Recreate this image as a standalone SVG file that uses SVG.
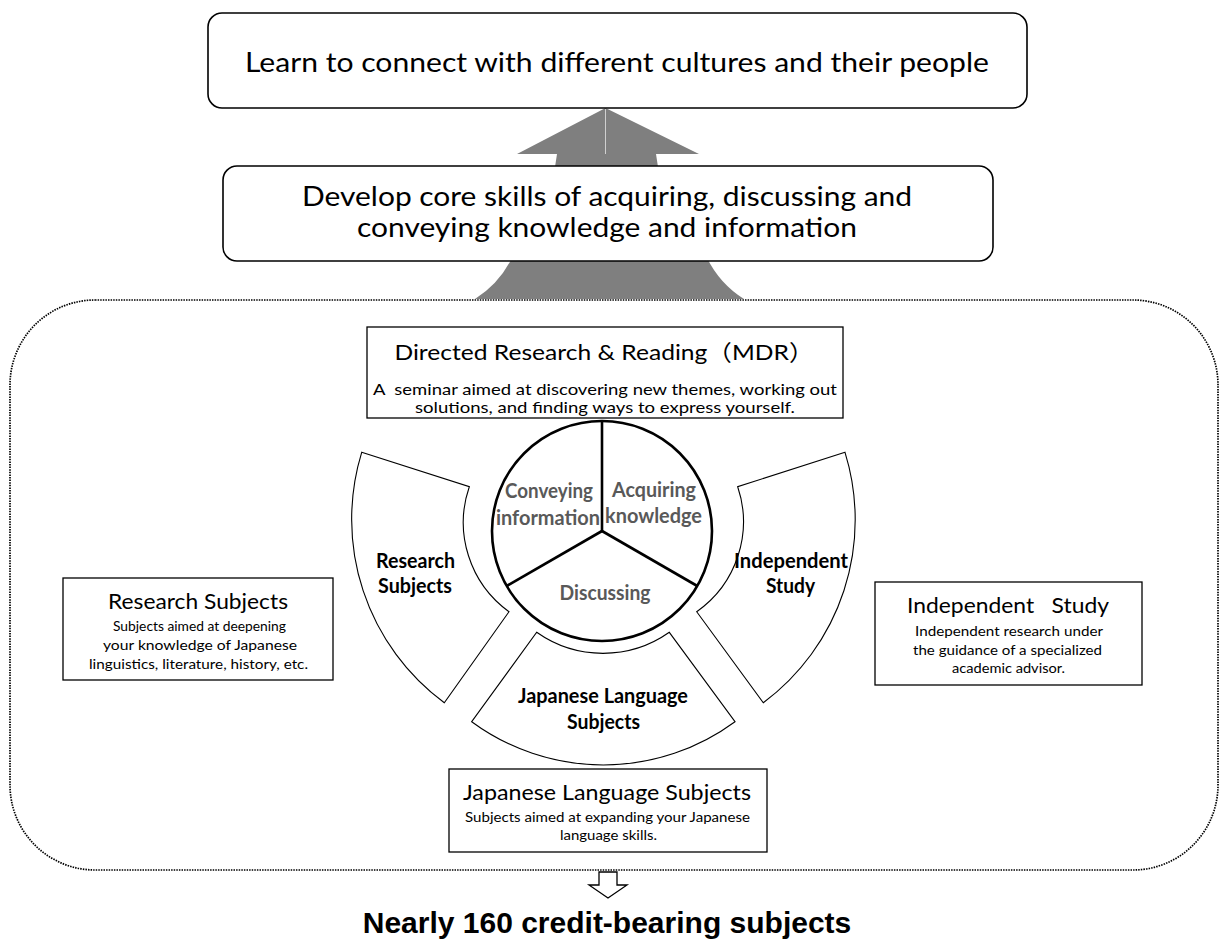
<svg xmlns="http://www.w3.org/2000/svg" width="1219" height="943" viewBox="0 0 1219 943">
<style>
  text { font-family: Lato, "Liberation Sans", "Noto Sans CJK JP", sans-serif; fill: #000; text-anchor: middle; }
  .box { fill: #fff; stroke: #000; stroke-width: 1.6; }
  .rect { fill: #fff; stroke: #000; stroke-width: 1.3; }
  .seg { fill: #fff; stroke: #000; stroke-width: 1.1; }
  .gray { fill: #7f7f7f; }
  .dotted { fill: none; stroke: #000; stroke-width: 1.7; stroke-dasharray: 1.5 1.1; }
  .hollow { fill: #fff; stroke: #000; stroke-width: 1.3; }
  .t1 { font-size: 27px; }
  .t2 { font-size: 26px; }
  .ttl { font-size: 22px; }
  .sub { font-size: 15px; }
  .small { font-size: 14px; }
  .lbl { font-size: 20px; font-weight: 700; }
  .cl { font-size: 20px; font-weight: 700; fill: #595959; }
  .final { font-family: "Liberation Sans", Arial, sans-serif; font-size: 30px; font-weight: 700; }
</style>
<rect x="0" y="0" width="1219" height="943" fill="#fff"/>

<g id="frame">
  <rect class="dotted" x="10" y="300" width="1208" height="570" rx="85" ry="85"/>
</g>

<g id="connectors">
  <path class="gray" d="M605.5,108 L699,154 L656,154 L658,167 L555,167 L557,154 L517,154 Z"/>
  <line x1="605.5" y1="109" x2="605.5" y2="154" stroke="#d0d0d0" stroke-width="1"/>
  <path class="gray" d="M512,258 L707,258 Q720,284 744,299 L475,299 Q499,284 512,258 Z"/>
  <path class="hollow" d="M599,872 L617,872 L617,885 L627,885 L608,898 L589,885 L599,885 Z"/>
</g>

<g id="goal">
  <rect class="box" x="208" y="13" width="819" height="95" rx="14" ry="14"/>
  <text class="t1" x="617" y="72" textLength="744" lengthAdjust="spacingAndGlyphs">Learn to connect with different cultures and their people</text>
</g>

<g id="core-skills">
  <rect class="box" x="223" y="166" width="770" height="95" rx="14" ry="14"/>
  <text class="t2" x="607" y="206" textLength="610" lengthAdjust="spacingAndGlyphs">Develop core skills of acquiring, discussing and</text>
  <text class="t2" x="607" y="237" textLength="500" lengthAdjust="spacingAndGlyphs">conveying knowledge and information</text>
</g>

<g id="mdr">
  <rect class="rect" x="367" y="327" width="476" height="91"/>
  <text class="ttl" x="604" y="360" textLength="419" lengthAdjust="spacingAndGlyphs">Directed Research &amp; Reading（MDR）</text>
  <text class="sub" x="605" y="395" textLength="464" lengthAdjust="spacingAndGlyphs" xml:space="preserve">A  seminar aimed at discovering new themes, working out</text>
  <text class="sub" x="605" y="413" textLength="380" lengthAdjust="spacingAndGlyphs">solutions, and finding ways to express yourself.</text>
</g>

<g id="research-segment">
  <path class="seg" d="M361.7,452.3 L469.3,486.7 A110,110 0 0 0 509,611.7 L444.3,702.7 A228,228 0 0 1 361.7,452.3 Z"/>
  <text class="lbl" x="415.5" y="568" textLength="79" lengthAdjust="spacingAndGlyphs">Research</text>
  <text class="lbl" x="415" y="593" textLength="74" lengthAdjust="spacingAndGlyphs">Subjects</text>
</g>

<g id="independent-segment">
  <path class="seg" d="M845,452.3 L737.7,486.7 A110,110 0 0 1 696.7,611.7 L763.3,702.7 A228,228 0 0 0 845,452.3 Z"/>
  <text class="lbl" x="791" y="568" textLength="114" lengthAdjust="spacingAndGlyphs">Independent</text>
  <text class="lbl" x="790.5" y="593" textLength="49" lengthAdjust="spacingAndGlyphs">Study</text>
</g>

<g id="japanese-segment">
  <path class="seg" d="M536.7,632.3 A115,115 0 0 0 669.3,632.3 L735,721.7 A222,222 0 0 1 471.7,721.7 Z"/>
  <text class="lbl" x="603" y="703" textLength="170" lengthAdjust="spacingAndGlyphs">Japanese Language</text>
  <text class="lbl" x="603.5" y="729" textLength="73" lengthAdjust="spacingAndGlyphs">Subjects</text>
</g>

<g id="core-circle">
  <circle cx="602" cy="531" r="110" fill="#fff" stroke="#000" stroke-width="2.6"/>
  <line x1="602" y1="531" x2="602" y2="421" stroke="#000" stroke-width="2.6"/>
  <line x1="602" y1="531" x2="506.7" y2="586" stroke="#000" stroke-width="2.6"/>
  <line x1="602" y1="531" x2="697.3" y2="586" stroke="#000" stroke-width="2.6"/>
  <text class="cl" x="549" y="498" textLength="88" lengthAdjust="spacingAndGlyphs">Conveying</text>
  <text class="cl" x="548" y="525" textLength="104" lengthAdjust="spacingAndGlyphs">information</text>
  <text class="cl" x="654" y="497" textLength="84" lengthAdjust="spacingAndGlyphs">Acquiring</text>
  <text class="cl" x="653.5" y="523" textLength="97" lengthAdjust="spacingAndGlyphs">knowledge</text>
  <text class="cl" x="605" y="600" textLength="91" lengthAdjust="spacingAndGlyphs">Discussing</text>
</g>

<g id="research-box">
  <rect class="rect" x="63" y="578" width="270" height="102"/>
  <text class="ttl" x="198" y="609" textLength="180" lengthAdjust="spacingAndGlyphs">Research Subjects</text>
  <text class="small" x="199.5" y="631" textLength="173" lengthAdjust="spacingAndGlyphs">Subjects aimed at deepening</text>
  <text class="small" x="200" y="650" textLength="194" lengthAdjust="spacingAndGlyphs">your knowledge of Japanese</text>
  <text class="small" x="198.5" y="669" textLength="219" lengthAdjust="spacingAndGlyphs">linguistics, literature, history, etc.</text>
</g>

<g id="independent-box">
  <rect class="rect" x="875" y="582" width="267" height="103"/>
  <text class="ttl" x="1008" y="613" textLength="202" lengthAdjust="spacingAndGlyphs" xml:space="preserve">Independent   Study</text>
  <text class="small" x="1009" y="636" textLength="188" lengthAdjust="spacingAndGlyphs">Independent research under</text>
  <text class="small" x="1007.5" y="655" textLength="189" lengthAdjust="spacingAndGlyphs">the guidance of a specialized</text>
  <text class="small" x="1008.5" y="673" textLength="113" lengthAdjust="spacingAndGlyphs">academic advisor.</text>
</g>

<g id="japanese-box">
  <rect class="rect" x="449" y="769" width="318" height="83"/>
  <text class="ttl" x="607" y="800" textLength="288" lengthAdjust="spacingAndGlyphs">Japanese Language Subjects</text>
  <text class="small" x="607.5" y="822" textLength="285" lengthAdjust="spacingAndGlyphs">Subjects aimed at expanding your Japanese</text>
  <text class="small" x="608.5" y="840" textLength="97" lengthAdjust="spacingAndGlyphs">language skills.</text>
</g>

<g id="total">
  <text class="final" x="607" y="933">Nearly 160 credit-bearing subjects</text>
</g>
</svg>
